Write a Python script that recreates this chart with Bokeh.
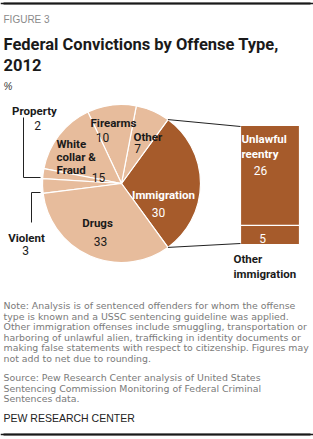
import numpy as np
from bokeh.plotting import figure
from bokeh.models import Range1d
from bokeh.core.properties import value
from bokeh.embed import file_html
from bokeh.resources import INLINE

# ---- data ----
pie_labels = ["Immigration", "Other", "Firearms", "White collar & Fraud", "Property", "Violent", "Drugs"]
pie_values = [30, 7, 10, 15, 2, 3, 33]
imm_labels = ["Other immigration", "Unlawful reentry"]
imm_values = [5, 26]

W, H = 313, 439
LIGHT = "#E7BC9C"
DARK = "#A65B2B"
GRAY = "#7a7a7a"

def Y(ys):
    return H - ys

p = figure(width=W, height=H, x_range=Range1d(0, W), y_range=Range1d(0, H),
           output_backend="svg", toolbar_location=None, min_border=0)
p.axis.visible = False
p.grid.visible = False
p.outline_line_color = None

# top and bottom rules
p.hspan(y=[Y(3), Y(434)], line_color="#1a1a1a", line_width=1.5)
p.quad(left=[3, 3], right=[310, 310], bottom=[Y(4), Y(435)], top=[Y(2), Y(433)],
       fill_color="#1a1a1a", line_color=None)

# ---- pie ----
cx, cy, r = 121, 183, 79
vals = np.array(pie_values, dtype=float)
ang = vals / vals.sum() * 2 * np.pi
start0 = -ang[0] / 2
ends = start0 + np.cumsum(ang)
starts = ends - ang
colors = [DARK] + [LIGHT] * (len(vals) - 1)
p.wedge(x=cx, y=Y(cy), radius=r, start_angle=starts, end_angle=ends,
        fill_color=colors, line_color="white", line_width=1.2)

# ---- stacked bar for immigration breakdown ----
bx0, bx1, btop, bbot = 240, 299, 125, 244
iv = np.array(imm_values, dtype=float)
scale = (bbot - btop) / iv.sum()
tops = Y(bbot) + np.cumsum(iv) * scale
bots = tops - iv * scale
p.quad(left=bx0, right=bx1, bottom=bots, top=tops, fill_color=DARK,
       line_color="white", line_width=1.2)

# connector lines from immigration slice edges to bar
sx1 = cx + r * np.cos(ends[0]); sy1 = Y(cy) + r * np.sin(ends[0])
sx2 = cx + r * np.cos(starts[0]); sy2 = Y(cy) + r * np.sin(starts[0])
p.segment(x0=[sx1, sx2], y0=[sy1, sy2], x1=[bx0, bx0], y1=[Y(btop) - 1, Y(bbot) + 1],
          line_color="#222222", line_width=1)

# leader lines
p.line([23, 23, 40], [Y(117), Y(177), Y(177)], line_color="#222222", line_width=1)
p.line([31, 31, 40], [Y(222), Y(192), Y(192)], line_color="#222222", line_width=1)

LF = value("Roboto")
def txt(x, ys, s, size="11.5px", color="#1a1a1a", style="bold", align="center", font=LF):
    p.text(x=[x], y=[Y(ys)], text=[s], text_font=font, text_font_size=size,
           text_font_style=style, text_color=color, text_align=align,
           text_baseline="alphabetic")

# pie labels
txt(34, 110, pie_labels[4])
txt(37, 125, str(pie_values[4]), style="normal", size="12px")
txt(56, 143, "White", align="left")
txt(56, 156, "collar &", align="left")
txt(56, 169, "Fraud", align="left")
txt(98, 177, str(pie_values[3]), style="normal", size="12px")
txt(113, 122, pie_labels[2])
txt(102, 137, str(pie_values[2]), style="normal", size="12px")
txt(133, 136, pie_labels[1], align="left")
txt(137, 148, str(pie_values[1]), style="normal", size="12px")
txt(163, 194, pie_labels[0], color="white")
txt(158, 212, str(pie_values[0]), color="white", style="normal", size="12px")
txt(97, 222, pie_labels[6])
txt(100, 241, str(pie_values[6]), style="normal", size="12px")
txt(26, 237, pie_labels[5])
txt(25, 250, str(pie_values[5]), style="normal", size="12px")

# bar labels
txt(241, 138, "Unlawful", color="white", align="left")
txt(241, 153, "reentry", color="white", align="left")
txt(260, 170, str(imm_values[1]), color="white", style="normal", size="12px")
txt(262, 238, str(imm_values[0]), color="white", style="normal", size="12px")
txt(233, 258, "Other", align="left")
txt(233, 273, "immigration", align="left")

NF = value("Liberation Sans")
DF = value("DejaVu Sans")
# title block
txt(3, 19, "FIGURE 3", size="10px", color="#8a8a8a", style="normal", align="left", font=NF)
txt(3, 44, "Federal Convictions by Offense Type,", size="16.5px", align="left")
txt(3, 64, "2012", size="16.5px", align="left")
txt(3, 86, "%", size="10px", color="#333333", style="italic", align="left", font=NF)

notes = [
    "Note: Analysis is of sentenced offenders for whom the offense",
    "type is known and a USSC sentencing guideline was applied.",
    "Other immigration offenses include smuggling, transportation or",
    "harboring of unlawful alien, trafficking in identity documents or",
    "making false statements with respect to citizenship. Figures may",
    "not add to net due to rounding.",
]
for i, s in enumerate(notes):
    txt(3, 305 + i * 10.5, s, size="9.4px", color=GRAY, style="normal", align="left", font=DF)
src = [
    "Source: Pew Research Center analysis of United States",
    "Sentencing Commission Monitoring of Federal Criminal",
    "Sentences data.",
]
for i, s in enumerate(src):
    txt(3, 377 + i * 10.5, s, size="9.4px", color=GRAY, style="normal", align="left", font=DF)
txt(3, 417, "PEW RESEARCH CENTER", size="10.5px", color="#222222", style="normal",
    align="left", font=NF)

open("out.html", "w").write(file_html(p, INLINE))
